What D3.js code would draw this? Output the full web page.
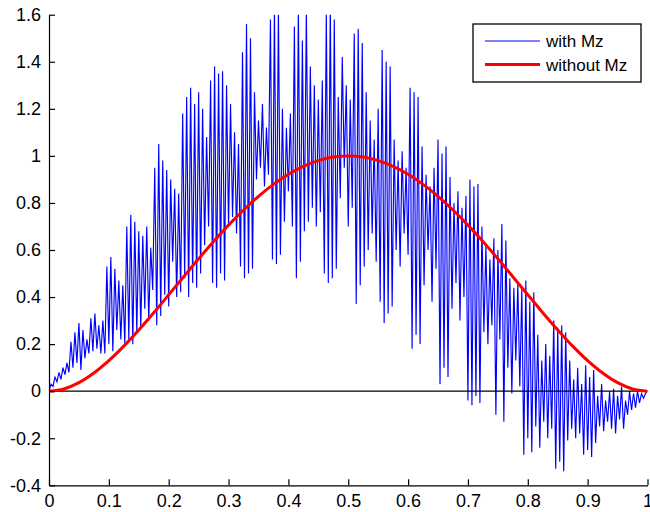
<!DOCTYPE html>
<html>
<head>
<meta charset="utf-8">
<script src="https://cdn.jsdelivr.net/npm/d3@7"></script>
<style>
    body { margin: 0; background: #fff; }
    #chart-area { width: 650px; height: 512px; }
    #chart-area text { font-family: "Liberation Sans", Arial, sans-serif; fill: #000; }
</style>
</head>
<body>
<div id="chart-area"></div>
<script>
// tick values
let xTicks = [0, 0.1, 0.2, 0.3, 0.4, 0.5, 0.6, 0.7, 0.8, 0.9, 1]
let yTicks = [-0.4, -0.2, 0, 0.2, 0.4, 0.6, 0.8, 1, 1.2, 1.4, 1.6]
let seriesNames = ["with Mz", "without Mz"]

// "with Mz" - samples evenly spaced over [0, 1]
let withMz = [
    0, .03, .02, .06, .04, .08, .05, .10, .07, .12, .08,
    .21, .10, .25, .12, .29, .09, .26, .14, .22,
    .16, .31, .17, .33, .18, .28, .16, .30,
    .16, .53, .20, .57,
    .17, .52, .26, .47, .22, .45, .20,
    .70, .22, .75, .20, .72, .25, .68,
    .27, .66, .35, .70, .30, .61, .43,
    .95, .28, 1.05, .32, .98, .41, .94,
    .36, .90, .55, .86, .40, .84,
    .42, 1.18, .48, 1.25, .40, 1.29, .46, 1.22, .44, 1.27, .50, 1.20,
    .62, 1.08, .70,
    1.32, .46, 1.38, .44, 1.35, .50, 1.36, .47, 1.30,
    .70, 1.22, .74, 1.10, .67, 1.05,
    .53, 1.44, .48, 1.56, .50, 1.50, .52,
    1.27, .90, 1.15, .95, 1.22, .87, 1.12, .92,
    1.58, .56, 1.63, .54, 1.62, .58,
    1.20, .72, 1.12, .85, 1.18, .70,
    1.55, .48, 1.63, .55, 1.49, .68, 1.62,
    .72, 1.38, .78, 1.30, .70, 1.24, .76, 1.32,
    .50, 1.62, .46, 1.65, .48, 1.58, .52,
    1.25, .82, 1.42, .95, 1.30, .70, 1.24, .78,
    1.52, .37, 1.54, .45, 1.48,
    .53, 1.27, .60, 1.15, .67, 1.07, .55, 1.20,
    .38, 1.45, .29, 1.40, .33, 1.38, .36,
    1.07, .60, .98, .53, 1.02, .67, .95, .58,
    1.29, .18, 1.27, .24, 1.25, .20,
    1.04, .45, .92, .60, .87, .38, .95, .52,
    1.07, .03, 1.01, .10, 1.04, .06,
    .91, .35, .80, .46, .85, .30, .78, .40, .83,
    -.04, .90, -.06, .87, -.02, .88, -.05,
    .70, .25, .62, .20, .56, .28, .65, -.10, .60, .22,
    .71, -.13, .64,
    .10, .48, -.01, .44, .13, .46, .02, .44,
    -.27, .47, -.20, .38, -.26, .42, -.15,
    .24, -.24, .13, -.13, .20, -.20, .15, -.16,
    .30, -.33, .27, -.30, .28, -.34, .25,
    -.21, .13, -.16, .05, -.20, .10, -.18, .03,
    -.27, .11, -.25, .06, -.28, .09, -.22,
    -.02, -.15, .03, -.17, -.04, -.13, .00, -.16,
    .01, -.18, -.02, -.12, .02, -.16, -.04,
    -.10, .00, -.08, -.01, -.07, .00, -.05, -.01, -.03, -.01, 0
]

// "without Mz" - samples every 0.025
let withoutMz = [
    0, .0095, .0361, .0770, .1296, .1914, .2601, .3335, .4096, .4865,
    .5625, .6360, .7056, .7700, .8281, .8789, .9216, .9555, .9801, .9950,
    1,
    .9950, .9801, .9555, .9216, .8789, .8281, .7700, .7056, .6360, .5625,
    .4865, .4096, .3335, .2601, .1914, .1296, .0770, .0361, .0095, 0
]

// reference line y = 0
let zeroLine = [0, 0]

class LinePlot {
    constructor(parentElement) {
        this.parentElement = parentElement
        this.initVis()
    }

    initVis() {
        let vis = this

        vis.margin = {top: 14.7, right: 2.5, bottom: 26.7, left: 49}
        vis.width = 650 - vis.margin.left - vis.margin.right
        vis.height = 512 - vis.margin.top - vis.margin.bottom

        vis.svg = d3.select("#" + vis.parentElement).append("svg")
            .attr("width", 650)
            .attr("height", 512)
            .append("g")
            .attr("transform", `translate(${vis.margin.left}, ${vis.margin.top})`)

        vis.svg.append("clipPath").attr("id", "plot-clip")
            .append("rect")
            .attr("width", vis.width)
            .attr("height", vis.height)

        vis.x = d3.scaleLinear().domain([0, 1]).range([0, vis.width])
        vis.y = d3.scaleLinear().domain([-0.4, 1.6]).range([vis.height, 0])

        vis.toPoints = arr => arr.map((v, i) => [i / (arr.length - 1), v])

        vis.line = d3.line()
            .x(d => vis.x(d[0]))
            .y(d => vis.y(d[1]))

        this.updateVis()
    }

    updateVis() {
        let vis = this
        let plot = vis.svg.append("g").attr("clip-path", "url(#plot-clip)")

        plot.append("path")
            .datum(vis.toPoints(withMz))
            .attr("d", vis.line)
            .attr("fill", "none")
            .attr("stroke", "#0000ff")
            .attr("stroke-width", 1.15)

        plot.append("path")
            .datum(vis.toPoints(zeroLine))
            .attr("d", vis.line)
            .attr("fill", "none")
            .attr("stroke", "#000")
            .attr("stroke-width", 1.2)

        plot.append("path")
            .datum(vis.toPoints(withoutMz))
            .attr("d", vis.line.curve(d3.curveCatmullRom))
            .attr("fill", "none")
            .attr("stroke", "#ff0000")
            .attr("stroke-width", 3)

        // axes, ticks pointing inward like matlab
        let xAxis = d3.axisBottom(vis.x).tickValues(xTicks).tickFormat(d3.format("")).tickSizeInner(-6).tickSizeOuter(0).tickPadding(9)
        let yAxis = d3.axisLeft(vis.y).tickValues(yTicks).tickFormat(d => d < 0 ? "-" + (-d) : "" + d).tickSizeInner(-6).tickSizeOuter(0).tickPadding(8)

        vis.svg.append("g").attr("class", "x-axis axis").attr("transform", `translate(0, ${vis.height})`).call(xAxis)
        vis.svg.append("g").attr("class", "y-axis axis").call(yAxis)

        vis.svg.selectAll(".axis text").style("font-size", "18px")
        vis.svg.selectAll(".axis path, .axis line").attr("stroke", "#000").attr("stroke-width", 1.2)

        // legend
        let legend = vis.svg.append("g").attr("transform", `translate(${473 - vis.margin.left}, ${24 - vis.margin.top})`)
        legend.append("rect")
            .attr("width", 168)
            .attr("height", 58)
            .attr("fill", "#fff")
            .attr("stroke", "#000")
            .attr("stroke-width", 1.3)

        let colors = ["#0000ff", "#ff0000"]
        let widths = [1, 3]
        seriesNames.forEach((name, i) => {
            let yPos = 17 + i * 23.5
            legend.append("line")
                .attr("x1", 12).attr("x2", 67)
                .attr("y1", yPos).attr("y2", yPos)
                .attr("stroke", colors[i])
                .attr("stroke-width", widths[i])
            legend.append("text")
                .attr("x", 73)
                .attr("y", yPos + 6)
                .style("font-size", "17px")
                .text(name)
        })
    }
}

new LinePlot("chart-area")
</script>
</body>
</html>
